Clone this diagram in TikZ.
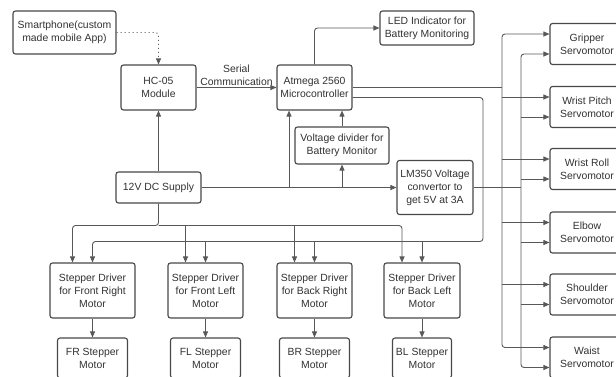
\documentclass[tikz,border=0pt]{standalone}
\usepackage{fontspec}
\setmainfont{Liberation Sans}
\usepackage{xcolor}
\usetikzlibrary{arrows.meta,shapes}
\pgfdeclarelayer{edgelayer}
\pgfdeclarelayer{nodelayer}
\pgfsetlayers{edgelayer,nodelayer,main}
\definecolor{boxgray}{RGB}{72,72,72}
\definecolor{linegray}{RGB}{88,88,88}
\definecolor{textgray}{RGB}{50,50,50}
\tikzstyle{block}=[rectangle, rounded corners=2.5pt, draw=boxgray, fill=white, line width=1.1pt, text=textgray, align=center, inner sep=2pt, font=\fontsize{10.4}{13}\selectfont]
\tikzstyle{servo}=[block, minimum width=74pt, minimum height=41pt]
\tikzstyle{driver}=[block, minimum width=75pt, minimum height=55pt]
\tikzstyle{motor}=[block, minimum width=70pt, minimum height=40pt]
\tikzstyle{lbl}=[text=textgray, align=center, inner sep=1.5pt, font=\fontsize{10.4}{13}\selectfont]
\tikzstyle{arrow}=[-{Triangle[length=6pt,width=5pt]}, draw=linegray, line width=0.9pt, rounded corners=3pt]
\tikzstyle{line}=[-, draw=linegray, line width=0.9pt, rounded corners=3pt]
\tikzstyle{dotarrow}=[arrow, dash pattern=on 1pt off 3pt]

\begin{document}
\begin{tikzpicture}[x=1pt, y=-1pt]
            \useasboundingbox (0, 0) rectangle (616, 376);
            \begin{pgfonlayer}{nodelayer}
                \node [style=block, minimum width=103pt, minimum height=43pt] (phone) at (64.5, 32.5) {Smartphone(custom\\made mobile App)};
                \node [style=block, minimum width=75pt, minimum height=45pt] (HC) at (158.5, 87.5) {HC-05\\Module};
                \node [style=block, minimum width=75pt, minimum height=45pt] (ATM) at (314.5, 87.5) {Atmega 2560\\Microcontroller};
                \node [style=block, minimum width=94pt, minimum height=34pt] (LED) at (427, 28) {LED Indicator for\\Battery Monitoring};
                \node [style=block, minimum width=94pt, minimum height=37pt] (VD) at (342, 145.5) {Voltage divider for\\Battery Monitor};
                \node [style=block, minimum width=85pt, minimum height=31pt] (DC) at (158.5, 187.5) {12V DC Supply};
                \node [style=block, minimum width=76pt, minimum height=54pt] (LM) at (435, 187.5) {LM350 Voltage\\convertor to\\get 5V at 3A};
                \node [style=servo] (S1) at (587, 44) {Gripper\\Servomotor};
                \node [style=servo] (S2) at (587, 107) {Wrist Pitch\\Servomotor};
                \node [style=servo] (S3) at (587, 169) {Wrist Roll\\Servomotor};
                \node [style=servo] (S4) at (587, 232.5) {Elbow\\Servomotor};
                \node [style=servo] (S5) at (587, 294.5) {Shoulder\\Servomotor};
                \node [style=servo] (S6) at (587, 357.5) {Waist\\Servomotor};
                \node [style=driver, minimum width=85pt] (D1) at (92.5, 290.5) {Stepper Driver\\for Front Right\\Motor};
                \node [style=driver] (D2) at (205.5, 290.5) {Stepper Driver\\for Front Left\\Motor};
                \node [style=driver] (D3) at (314.5, 290.5) {Stepper Driver\\for Back Right\\Motor};
                \node [style=driver, minimum width=76pt] (D4) at (422, 290.5) {Stepper Driver\\for Back Left\\Motor};
                \node [style=motor] (M1) at (92.5, 358) {FR Stepper\\Motor};
                \node [style=motor] (M2) at (205.5, 358) {FL Stepper\\Motor};
                \node [style=motor] (M3) at (314.5, 358) {BR Stepper\\Motor};
                \node [style=motor, minimum width=59pt] (M4) at (422, 358) {BL Stepper\\Motor};
            \end{pgfonlayer}
            \begin{pgfonlayer}{edgelayer}
                % junctions and buses
                \coordinate (J1) at (289, 187.5);
                \coordinate (J2) at (342, 187.5);
                \coordinate (B1) at (502, 87.5);
                \coordinate (B2) at (521, 187.5);
                \coordinate (C1) at (483, 241.5);
                \coordinate (DCb) at (158.5, 225.5);
                \coordinate (ATMo) at ([yshift=-10pt]ATM.east);
                \coordinate (S1u) at ([yshift=10pt]S1.west);
                \coordinate (S2u) at ([yshift=10pt]S2.west);
                \coordinate (S3u) at ([yshift=10pt]S3.west);
                \coordinate (S4u) at ([yshift=10pt]S4.west);
                \coordinate (S5u) at ([yshift=10pt]S5.west);
                \coordinate (S6u) at ([yshift=10pt]S6.west);
                \coordinate (S1d) at ([yshift=-10pt]S1.west);
                \coordinate (S2d) at ([yshift=-10pt]S2.west);
                \coordinate (S3d) at ([yshift=-10pt]S3.west);
                \coordinate (S4d) at ([yshift=-10pt]S4.west);
                \coordinate (S5d) at ([yshift=-10pt]S5.west);
                \coordinate (S6d) at ([yshift=-10pt]S6.west);
                \coordinate (D1a) at ([xshift=-20pt]D1.north);
                \coordinate (D2a) at ([xshift=-20pt]D2.north);
                \coordinate (D3a) at ([xshift=-20pt]D3.north);
                \coordinate (D4a) at ([xshift=-20pt]D4.north);

                \draw [style=dotarrow] (phone) -| (HC);
                \draw [style=arrow] (HC) -- node [style=lbl, above] {Serial\\Communication} (ATM);
                \draw [style=arrow] (ATM) |- (LED);
                \draw [style=arrow] (DC) -- (HC);
                \draw [style=arrow] (DC) -- (LM);
                \draw [style=arrow] (J1) -- (J1 |- ATM.south);
                \draw [style=arrow] (J2) -- (VD);
                \draw [style=arrow] (VD) -- (VD |- ATM.south);

                % servo bus from the controller
                \draw [style=line] (ATM.east) -- (B1);
                \draw [style=arrow] (B1) |- (S1u);
                \draw [style=arrow] (B1 |- S2u) -- (S2u);
                \draw [style=arrow] (B1 |- S3u) -- (S3u);
                \draw [style=arrow] (B1 |- S4u) -- (S4u);
                \draw [style=arrow] (B1 |- S5u) -- (S5u);
                \draw [style=arrow] (B1) |- (S6u);

                % servo bus from the 5V convertor
                \draw [style=line] (LM.east) -- (B2);
                \draw [style=arrow] (B2) |- (S1d);
                \draw [style=arrow] (B2 |- S2d) -- (S2d);
                \draw [style=arrow] (B2 |- S3d) -- (S3d);
                \draw [style=arrow] (B2 |- S4d) -- (S4d);
                \draw [style=arrow] (B2 |- S5d) -- (S5d);
                \draw [style=arrow] (B2) |- (S6d);

                % supply to the stepper drivers
                \draw [style=arrow] (DC) -- (DCb) -| (D1a);
                \draw [style=arrow] (DCb) -| (D4a);
                \draw [style=arrow] (D2a |- DCb) -- (D2a);
                \draw [style=arrow] (D3a |- DCb) -- (D3a);

                % controller to the stepper drivers
                \draw [style=arrow] (ATMo) -| (C1) -| (D1);
                \draw [style=arrow] (D2 |- C1) -- (D2);
                \draw [style=arrow] (D3 |- C1) -- (D3);
                \draw [style=arrow] (D4 |- C1) -- (D4);

                \draw [style=arrow] (D1) -- (M1);
                \draw [style=arrow] (D2) -- (M2);
                \draw [style=arrow] (D3) -- (M3);
                \draw [style=arrow] (D4) -- (M4);
            \end{pgfonlayer}
        \end{tikzpicture}
\end{document}
